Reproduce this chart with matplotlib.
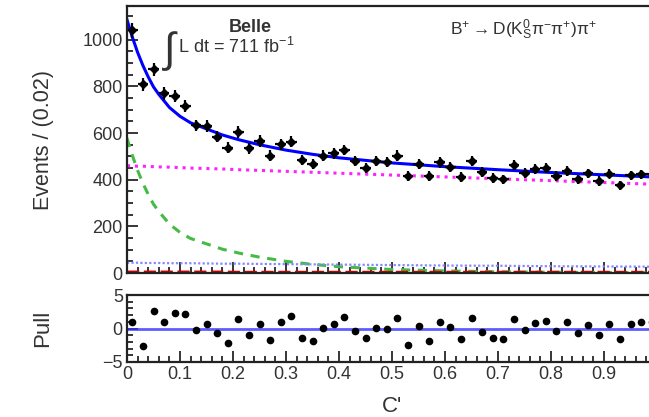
import numpy as np
import matplotlib
matplotlib.use("Agg")
import matplotlib.pyplot as plt
from matplotlib.ticker import MultipleLocator

plt.rcParams["font.family"] = ["Liberation Sans", "DejaVu Sans"]
plt.rcParams["mathtext.fontset"] = "custom"
plt.rcParams["mathtext.rm"] = "Liberation Sans"
plt.rcParams["mathtext.it"] = "Liberation Sans:italic"

# binned C' data, 50 bins of width 0.02
events = [1041, 809, 873, 770, 759, 717, 633, 630, 584, 537,
          605, 535, 566, 503, 552, 563, 483, 466, 503, 513,
          528, 480, 451, 479, 476, 503, 416, 467, 417, 474,
          456, 411, 480, 433, 408, 401, 463, 430, 446, 451,
          417, 437, 401, 427, 394, 426, 377, 419, 423, 423]

pulls = [1.0, -2.6, 2.6, 1.0, 2.3, 2.1, -0.2, 0.6, -0.6, -2.1,
         1.4, -1.0, 0.7, -1.7, 0.9, 1.8, -1.4, -1.9, 0.05, 0.7,
         1.7, -0.4, -1.4, 0.1, 0.0, 1.5, -2.4, 0.3, -1.9, 0.9,
         0.2, -1.6, 1.6, -0.5, -1.4, -1.6, 1.4, -0.15, 0.8, 1.1,
         -0.4, 0.9, -0.7, 0.5, -0.9, 0.7, -1.6, 0.7, 1.0, 1.0]

# fitted PDF components evaluated on a common grid
curve_x = [0.0, 0.01, 0.02, 0.03, 0.04, 0.05, 0.06, 0.08, 0.10, 0.12, 0.15, 0.18,
           0.21, 0.25, 0.30, 0.35, 0.40, 0.50, 0.60, 0.70, 0.80, 0.90, 1.00]
signal = [578, 505, 440, 385, 337, 295, 264, 210, 174, 148, 125, 102,
          86, 68, 50, 37, 27, 15, 9, 5, 3, 2, 1]
continuum = [460, 459, 458, 458, 457, 456, 455, 454, 452, 450, 448, 446,
             443, 440, 436, 432, 428, 420, 412, 404, 396, 388, 380]
bbbar = [44, 44, 44, 43, 43, 43, 43, 42, 42, 42, 41, 40,
         40, 39, 38, 37, 36, 34, 32, 31, 29, 28, 27]
peaking = [4, 4, 4, 4, 4, 4, 4, 4, 4, 4, 4, 4,
           3, 3, 3, 3, 3, 3, 3, 3, 3, 3, 3]

bin_edges = np.linspace(0.0, 1.0, len(events) + 1)
centers = 0.5 * (bin_edges[:-1] + bin_edges[1:])
half_width = 0.5 * np.diff(bin_edges)
events = np.array(events, dtype=float)
total = np.sum([signal, continuum, bbbar, peaking], axis=0)

text_color = "#333333"
W, H = 649, 417
fig = plt.figure(figsize=(W / 100, H / 100), dpi=100)
ax = fig.add_axes([127 / W, (H - 273) / H, 530 / W, 267 / H])
axp = fig.add_axes([127 / W, (H - 362) / H, 530 / W, 67 / H])

# main panel
ax.plot(curve_x, continuum, color="#ff22ff", lw=2.2, ls=(0, (1, 1.6)))
ax.plot(curve_x, signal, color="#44bb44", lw=2.2, ls=(0, (3, 2.5)))
ax.plot(curve_x, bbbar, color="#8888ff", lw=1.6, ls=(0, (1, 1)))
ax.plot(curve_x, peaking, color="#cc0000", lw=2.2, ls=(0, (4, 1.5)))
ax.plot(curve_x, total, color="#0000ff", lw=2.2)
ax.errorbar(centers, events, xerr=half_width, yerr=np.sqrt(events), fmt="D",
            color="black", ms=4.5, elinewidth=1.6, capsize=0)

ax.set_xlim(0, 1)
ax.set_ylim(0, 1145)
ax.set_ylabel("Events / (0.02)", fontsize=15.5, color=text_color)
ax.yaxis.set_label_coords(-0.137, 0.5)
ax.xaxis.set_major_locator(MultipleLocator(0.1))
ax.xaxis.set_minor_locator(MultipleLocator(0.02))
ax.yaxis.set_major_locator(MultipleLocator(200))
ax.yaxis.set_minor_locator(MultipleLocator(50))
ax.tick_params(axis="x", labelbottom=False)

ax.text(0.066, 0.83, r"$\int$", transform=ax.transAxes, fontsize=30,
        color=text_color, va="center", ha="left")
ax.text(0.232, 0.921, "Belle", transform=ax.transAxes, fontsize=13,
        fontweight="bold", color=text_color, ha="center", va="center")
ax.text(0.097, 0.846, r"L dt = 711 fb$^{-1}$", transform=ax.transAxes,
        fontsize=13, color=text_color, ha="left", va="center")
ax.text(0.61, 0.91, r"$\mathrm{B^{+} \rightarrow D(K^{0}_{S}\pi^{-}\pi^{+})\pi^{+}}$",
        transform=ax.transAxes, fontsize=12.5, color=text_color, ha="left", va="center")

# pull panel
axp.axhline(0, color="#3333ff", lw=2, alpha=0.8)
axp.plot(centers, pulls, "o", color="black", ms=4.5)
axp.set_xlim(0, 1)
axp.set_ylim(-5, 5)
axp.set_ylabel("Pull", fontsize=16, color=text_color)
axp.yaxis.set_label_coords(-0.14, 0.5)
axp.set_xlabel("C'", fontsize=16, color=text_color, labelpad=9)
axp.xaxis.set_major_locator(MultipleLocator(0.1))
axp.xaxis.set_minor_locator(MultipleLocator(0.02))
axp.yaxis.set_major_locator(MultipleLocator(5))
axp.yaxis.set_minor_locator(MultipleLocator(1))
axp.set_xticks(np.arange(0, 1.0, 0.1))
axp.set_xticklabels(["0", "0.1", "0.2", "0.3", "0.4", "0.5", "0.6", "0.7", "0.8", "0.9"])

for a in (ax, axp):
    for spine in a.spines.values():
        spine.set_linewidth(1.6)
        spine.set_color("#222222")
    a.tick_params(which="both", direction="in", top=False, right=False,
                  labelsize=13, labelcolor=text_color, width=1.1)
    a.tick_params(which="major", length=8, pad=3)
    a.tick_params(which="minor", length=4)

fig.savefig("out.png", dpi=100)
